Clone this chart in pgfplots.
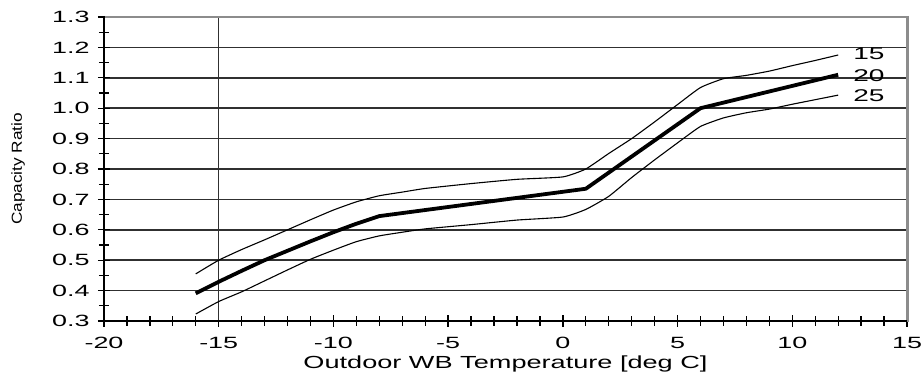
\documentclass[border=0pt]{standalone}
\usepackage{pgfplots}
\pgfplotsset{compat=1.18}
\usepackage{fontspec}
\setmainfont{Liberation Sans}
\newfontfamily\tickfont{Liberation Sans}[FakeStretch=1.65]
\newfontfamily\labfont{Liberation Sans}[FakeStretch=1.55]
\definecolor{gridc}{HTML}{303030}
\definecolor{borderc}{HTML}{8C8C8C}

\pgfplotstableread{
x y
-16 0.455
-15 0.500
-14 0.535
-13 0.567
-12 0.600
-11 0.633
-10 0.665
-9 0.692
-8 0.712
-7 0.724
-6 0.736
-4 0.752
-2 0.766
0 0.774
1 0.800
2 0.851
3 0.900
4 0.955
5 1.012
6 1.068
7 1.097
8 1.108
9 1.122
10 1.140
11 1.157
12 1.175
}\curveA

\pgfplotstableread{
x y
-16 0.391
-15 0.429
-14 0.465
-13 0.500
-12 0.531
-11 0.562
-10 0.592
-9 0.620
-8 0.645
1 0.735
6 1.000
12 1.110
}\curveB

\pgfplotstableread{
x y
-16 0.323
-15 0.364
-14 0.396
-13 0.432
-12 0.468
-11 0.503
-10 0.533
-9 0.561
-8 0.580
-7 0.592
-6 0.603
-4 0.617
-2 0.632
0 0.642
1 0.667
2 0.710
3 0.772
4 0.830
5 0.886
6 0.940
7 0.968
8 0.985
9 0.997
10 1.013
11 1.028
12 1.043
}\curveC

\begin{document}
\begin{tikzpicture}
\begin{axis}[
  name=ax,
  scale only axis,
  width=803pt, height=304pt,
  xmin=-20, xmax=15, ymin=0.3, ymax=1.3,
  clip=false,
  axis line style={draw=none},
  xtick={-20,-15,-10,-5,0,5,10,15},
  xticklabels={{-20},{-15},{-10},{-5},0,5,10,15},
  minor x tick num=4,
  ytick={0.3,0.4,0.5,0.6,0.7,0.8,0.9,1.0,1.1,1.2,1.3},
  yticklabels={0.3,0.4,0.5,0.6,0.7,0.8,0.9,1.0,1.1,1.2,1.3},
  minor y tick num=1,
  tick align=center,
  major tick length=12pt,
  minor tick length=10pt,
  tick style={black, line width=1.3pt},
  xtick pos=bottom, ytick pos=left,
  ymajorgrids=true,
  major grid style={gridc, line width=1.5pt},
  extra x ticks={-15},
  extra x tick labels={},
  extra x tick style={xmajorgrids=true, major tick length=0pt},
  tick label style={font=\fontsize{16.3}{18}\tickfont},
  xticklabel style={anchor=north, yshift=-7pt},
  yticklabel style={anchor=east, xshift=-5pt},
  xlabel={Outdoor WB Temperature [deg C]},
  xlabel style={font=\fontsize{17.5}{20}\labfont, at={(axis description cs:0.5,-0.1414)}, anchor=center},
  ylabel={\resizebox{112pt}{10.5pt}{Capacity Ratio}},
  ylabel style={at={(axis description cs:-0.107,0.5)}, anchor=center},
]
\addplot[black, line width=1.1pt, smooth, tension=0.3] table[x=x,y=y] {\curveA};
\addplot[black, line width=3.8pt, line join=round] table[x=x,y=y] {\curveB};
\addplot[black, line width=1.1pt, smooth, tension=0.3] table[x=x,y=y] {\curveC};
\node[anchor=west, font=\fontsize{17}{19}\tickfont, inner sep=0pt] at (axis cs:12.65,1.178) {15};
\node[anchor=west, font=\fontsize{17}{19}\tickfont, inner sep=0pt] at (axis cs:12.65,1.108) {20};
\node[anchor=west, font=\fontsize{17}{19}\tickfont, inner sep=0pt] at (axis cs:12.65,1.040) {25};
\end{axis}
\draw[borderc, line width=2pt] (ax.north west) -- (ax.north east);
\draw[borderc, line width=3pt] ([yshift=1pt]ax.north east) -- ([yshift=-1pt]ax.south east);
\draw[black, line width=2pt] ([yshift=1pt]ax.north west) -- ([yshift=-1pt]ax.south west);
\draw[black, line width=2pt] (ax.south west) -- (ax.south east);
\pgfresetboundingbox
\path ([shift={(-104pt,17pt)}]ax.north west) rectangle ([shift={(16pt,-55pt)}]ax.south east);
\end{tikzpicture}
\end{document}
